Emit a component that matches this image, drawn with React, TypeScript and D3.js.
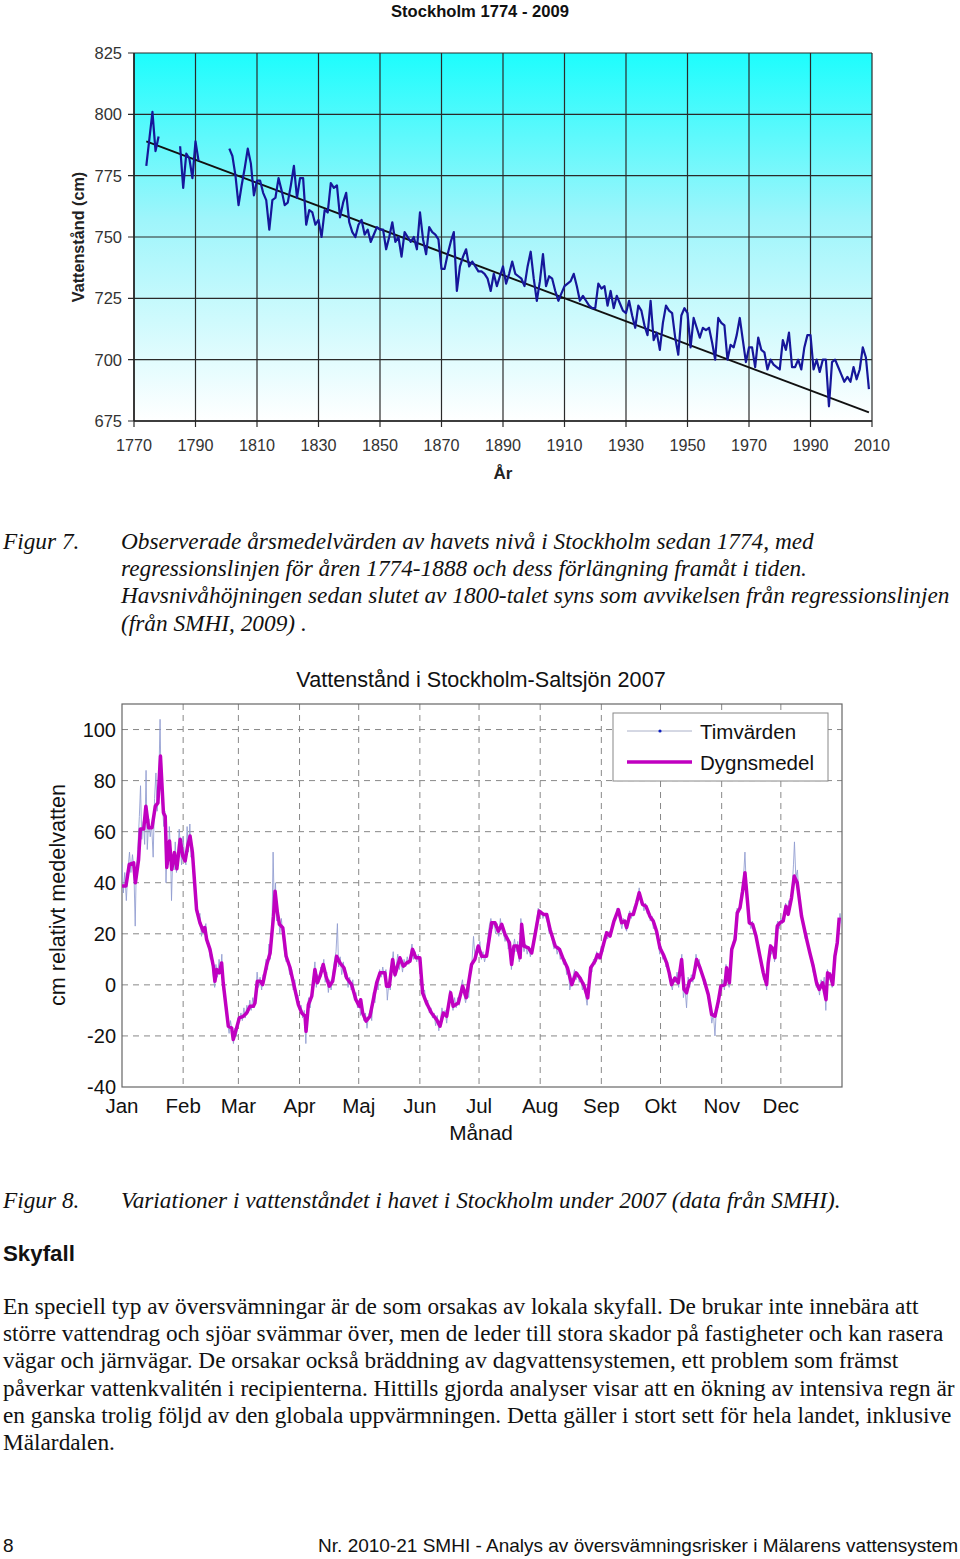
import React from "react";
import * as d3 from "d3";

// ---------- Chart 1: annual mean sea level Stockholm ----------
const years: number[] = [
  1774,1775,1776,1777,1778,
  1784,1785,1786,1787,1788,1789,1790,1791,1792,
  1800,1801,1802,1803,1804,1805,1806,1807,1808,1809,1810,1811,1812,1813,1814,1815,1816,1817,1818,1819,
  1820,1821,1822,1823,1824,1825,1826,1827,1828,1829,1830,1831,1832,1833,1834,1835,1836,1837,1838,1839,
  1840,1841,1842,1843,1844,1845,1846,1847,1848,1849,1850,1851,1852,1853,1854,1855,1856,1857,1858,1859,
  1860,1861,1862,1863,1864,1865,1866,1867,1868,1869,1870,1871,1872,1873,1874,1875,1876,1877,1878,1879,
  1880,1881,1882,1883,1884,1885,1886,1887,1888,1889,1890,1891,1892,1893,1894,1895,1896,1897,1898,1899,
  1900,1901,1902,1903,1904,1905,1906,1907,1908,1909,1910,1911,1912,1913,1914,1915,1916,1917,1918,1919,
  1920,1921,1922,1923,1924,1925,1926,1927,1928,1929,1930,1931,1932,1933,1934,1935,1936,1937,1938,1939,
  1940,1941,1942,1943,1944,1945,1946,1947,1948,1949,1950,1951,1952,1953,1954,1955,1956,1957,1958,1959,
  1960,1961,1962,1963,1964,1965,1966,1967,1968,1969,1970,1971,1972,1973,1974,1975,1976,1977,1978,1979,
  1980,1981,1982,1983,1984,1985,1986,1987,1988,1989,1990,1991,1992,1993,1994,1995,1996,1997,1998,1999,
  2000,2001,2002,2003,2004,2005,2006,2007,2008,2009,
];
const levels: (number | null)[] = [
  779,790,801,785,791,
  null,787,770,784,782,774,789,781,null,
  null,786,783,775,763,771,778,786,780,767,773,773,768,765,753,765,766,774,769,763,
  764,771,779,766,774,774,755,761,760,755,757,750,761,760,772,770,771,758,764,768,
  756,752,750,755,757,751,753,748,751,754,753,753,745,750,756,748,750,742,752,750,
  748,750,745,760,749,743,754,752,751,749,737,737,743,748,752,728,738,742,745,738,
  740,738,736,736,735,733,728,735,730,734,738,731,735,740,735,734,733,730,738,744,
  733,724,732,743,730,734,733,728,724,727,730,731,732,735,730,724,726,724,722,721,
  721,731,729,730,722,728,721,726,723,720,719,724,718,713,722,720,714,710,724,708,
  711,704,715,722,720,719,709,702,718,721,719,705,717,713,709,713,712,713,707,700,
  717,715,714,700,706,705,710,717,708,699,705,705,697,709,704,703,696,700,698,697,
  696,708,704,711,697,697,700,696,705,710,710,696,700,695,700,700,681,699,700,697,
  694,691,693,691,697,692,696,705,701,688,
];
const regYears: number[] = [1774, 2009];
const regLevels: number[] = [789, 678.5];
const yearTicks: number[] = [1770,1790,1810,1830,1850,1870,1890,1910,1930,1950,1970,1990,2010];
const levelTicks: number[] = [675,700,725,750,775,800,825];

// ---------- Chart 2: Stockholm-Saltsjön 2007 ----------
const monthStarts: number[] = [0,31,59,90,120,151,181,212,243,273,304,334];
const monthLabels: string[] = ["Jan","Feb","Mar","Apr","Maj","Jun","Jul","Aug","Sep","Okt","Nov","Dec"];
const cmTicks: number[] = [-40,-20,0,20,40,60,80,100];

const dailyDay: number[] = [
  0,2,3.7,5.9,6.8,8.4,9.3,11,12.1,13.5,15.2,16.9,18.2,19.5,21,21.9,22.7,24.1,25.2,26.6,27.8,29.5,30.8,32,33.3,34.5,35.7,
  37.8,39.5,41.2,42,42.9,44.6,46.3,47.1,48,49.3,50.5,51.3,52.7,53.9,55.6,56.4,58.1,59.5,61.5,63.2,64.9,66.6,67.4,68.6,70,71.3,
  73.4,75.1,76.8,77.6,78.8,79.8,81.5,83.2,85.2,86.9,89.4,91.1,92.8,93.3,94.5,96.2,97.8,99,100.4,102,103.4,105.1,106.8,108.8,
  110.5,112.5,113.9,116.4,118.6,120.3,121,122,123.7,125.7,127.4,129.1,130.8,133.3,134.1,135.5,137.2,138.4,140.9,142.6,144.3,
  146,147.3,149,151,152.4,154.4,156.9,159.5,161.2,162.9,164.6,166.6,167.9,170.5,172.7,174.5,177.2,178.9,180.6,182.3,184.8,
  187.4,189.1,190.8,192.5,194.2,196.4,197.5,198.7,200.4,201.8,202.6,203.8,206,207.7,209.4,211.5,213.7,215.3,217,219.6,221.8,
  223.8,225.8,228,230.2,232.2,234.3,236.1,237.6,239.8,241,242.3,244.3,245.7,247.4,249.4,251.6,253.3,254.9,255.8,257.5,259.2,
  260.9,262.2,263.9,265.6,267.6,269.3,271,272.7,274.4,276.1,277.4,278.6,280.3,282,283.7,284.9,286.2,287.6,289.6,291.3,293,
  295,297.2,298.9,300.6,302.3,303.6,305.7,306.5,307.9,309.1,310.8,311.9,313.3,314.6,315.8,317,318,319.7,321.4,323.4,325.1,
  326.8,327.6,328.8,330.2,331,332.2,333.5,335.2,336.6,337.7,339.4,340.8,342.3,344.5,346.7,348.7,350.4,352.1,353.5,355.2,
  356.9,357.7,358.9,360.3,361.4,362.6,363.6,
];
const dailyCm: number[] = [
  38.7,38.7,47.2,47.8,40,49,61,61,70,61.5,61.5,70,71.3,89.6,67.4,66,46,56.3,45.2,51.8,45.5,57,50.5,48.5,54.4,58.3,51.8,
  29.5,24.3,21,22.4,17.8,13.9,7.3,1.4,6,4.7,8.6,0.8,-8.4,-16.2,-16.9,-21.4,-16.9,-12.9,-12.3,-11,-8.4,-8.4,-7.1,1.4,1.4,0.1,
  8,12.5,26.9,36.7,28.2,23.7,22.4,11.2,6.7,0.8,-7.7,-11,-12.3,-18.2,-7.7,-4.4,6,0.8,3.4,8,3.4,-0.5,1.4,11.2,
  8.6,6.7,2.7,0.1,-5.8,-8.4,-5.8,-11,-14.2,-12.3,-5.8,0.8,4.7,4.7,-0.5,-0.5,9.9,4,10.6,7.3,8.6,
  9.3,13.9,10.6,10.6,-3.1,-7.1,-11,-13.6,-16.2,-11,-12.3,-3.1,-8.4,-7.1,-0.5,-5,8,10,15.2,11.2,11.2,
  24.3,24.3,21,23.7,19.7,16.5,8,15.2,15.2,10.6,23.7,15.2,14.5,12.5,19.7,28.9,27.6,27.6,21.7,15.2,13.9,
  9.9,6.7,0.1,4.7,2.7,-0.5,-5.1,6.7,9.3,11.9,10.6,16.5,20.4,19.1,25,29.5,24.3,25,22.4,27.6,27.6,
  32.2,36.1,31.5,30.8,26.9,25,21,14.5,11.9,8.6,4.7,0.1,2.7,0.8,9.9,-1.8,-3.1,1.4,2.7,9.9,6.7,
  2.1,-3.8,-11.6,-12.3,-6.4,-0.5,0.1,6.7,0.8,13.9,17.8,28.2,30.2,36.7,43.9,33.5,24.3,23.7,19.1,11.2,4.7,
  0.1,8.6,15.2,13.9,10.6,23,24.3,25,30.8,27.6,34.1,42.6,40,26.9,19.1,12.5,7.3,0.8,-1.8,0.8,
  -5.8,4.7,4,0.1,11.2,16.5,26.3,
];

const hourlyPairs: [number, number][] = [
  [0,48],[0.7,36],[1.4,44],[2.2,33],[3,45],[3.8,52],[4.5,44],[5.3,51],[6,46],[6.7,23],[7.2,44],[8,53],[8.8,66],[9.4,78],[10,57],[10.8,64],[11.5,55],[12.2,84],[12.8,53],[13.6,65],[14.3,58],[15,63],[15.8,50],[16.5,73],[17.2,83],[17.8,68],[18.5,74],[19.3,104],[19.8,78],[20.5,70],[21.2,62],[21.7,68],[22.3,40],[22.8,52],[23.5,47],[24,62],[24.6,52],[25.1,33],[25.7,50],[26.4,45],[27,56],[27.6,44],[28.3,52],[29,61],[29.6,54],[30.2,47],[31,58],[31.7,50],[32.4,47],[33,62],[33.7,52],[34.4,63],[35,50],[35.8,54],[36.5,44],[37.2,38],[38,32],[38.8,25],[39.5,28],[40.3,19],[41,23],[41.7,20],[42.5,24],[43.2,16],[44,15],[44.8,10],[45.5,12],[46.2,4],[47,-1],[47.6,8],[48.4,3],[49.2,10],[50,5],[50.6,12],[51.3,-2],[52,-4],[52.8,-10],[53.5,-15],[54.3,-19],[55,-14],[55.8,-18],[56.5,-23],[57.2,-17],[58,-20],[58.8,-13],[59.5,-14],[60.3,-11],[61,-14],[61.8,-9],[62.5,-13],[63.3,-8],[64,-11],[64.8,-6],[65.5,-10],[66.3,-5],[67,-9],[67.8,-3],[68.5,5],[69.2,-1],[70,3],[70.8,-2],[71.5,4],[72.3,2],[73,10],[73.8,6],[74.5,16],[75.2,10],[76,20],[76.6,52],[77.2,30],[77.8,40],[78.4,25],[79.2,29],[80,20],[80.8,26],[81.6,19],[82.4,13],[83.2,9],[84,10],[85,4],[86,6],[86.8,-2],[87.6,2],[88.4,-5],[89.2,-4],[90,-10],[90.8,-8],[91.6,-13],[92.4,-10],[93.2,-23],[93.8,-11],[94.6,-5],[95.4,-9],[96.2,-2],[97,3],[97.8,9],[98.5,-1],[99.2,4],[100,1],[100.8,7],[101.6,5],[102.3,10],[103,1],[103.8,5],[104.6,-3],[105.3,2],[106,-2],[106.8,4],[107.6,9],[108.5,13],[109.2,24],[109.8,7],[110.6,11],[111.4,4],[112.2,9],[113,3],[113.8,5],[114.6,-1],[115.4,3],[116.2,-2],[117,2],[117.8,-6],[118.6,-3],[119.4,-9],[120.2,-6],[121,-12],[121.8,-8],[122.6,-14],[123.4,-11],[124.2,-17],[125,-12],[125.8,-10],[126.6,-14],[127.4,-3],[128.2,-7],[129,2],[129.8,-2],[130.6,6],[131.4,3],[132.2,7],[133,3],[133.8,6],[134.5,-6],[135.3,1],[136,-2],[136.8,8],[137.5,13],[138.3,3],[139,7],[139.8,12],[140.6,6],[141.4,10],[142.2,5],[143,10],[143.8,7],[144.6,11],[145.4,8],[146.2,12],[147,16],[147.8,10],[148.6,13],[149.4,9],[150.2,12],[151,8],[151.8,0],[152.6,-4],[153.4,-2],[154.2,-8],[155,-6],[155.8,-11],[156.6,-9],[157.4,-13],[158.2,-11],[159,-16],[159.8,-12],[160.6,-18],[161.4,-14],[162.2,-9],[163,-13],[163.8,-10],[164.6,-15],[165.4,-8],[166.2,-2],[167,-6],[167.8,-10],[168.6,-5],[169.4,-9],[170.2,-5],[171,-8],[171.8,-1],[172.6,2],[173.4,-4],[174.2,-7],[175,-3],[175.8,-5],[176.6,6],[177.4,9],[178.2,19],[179,10],[179.8,15],[180.6,13],[181.4,17],[182.2,10],[183,13],[183.8,9],[184.6,12],[185.4,18],[186.2,23],[187,26],[187.8,22],[188.6,25],[189.4,20],[190.2,24],[191,19],[191.8,26],[192.6,21],[193.4,20],[194.2,17],[195,20],[195.8,14],[196.6,17],[197.4,6],[198.2,14],[199,18],[199.8,13],[200.6,17],[201.4,9],[202.2,26],[203,17],[203.8,13],[204.6,16],[205.4,12],[206.2,15],[207,11],[207.8,14],[208.6,18],[209.4,21],[210.2,25],[211,30],[211.8,27],[212.6,29],[213.4,26],[214.2,28],[215,26],[215.8,24],[216.6,20],[217.4,22],[218.2,17],[219,14],[219.8,16],[220.6,12],[221.4,15],[222.2,10],[223,12],[223.8,8],[224.6,10],[225.4,4],[226.2,7],[227,-2],[227.8,1],[228.6,3],[229.4,6],[230.2,2],[231,5],[231.8,1],[232.6,3],[233.4,-2],[234.2,1],[235,-4],[235.8,-8],[236.6,2],[237.4,7],[238.2,5],[239,10],[239.8,8],[240.6,13],[241.4,10],[242.2,12],[243,15],[243.8,13],[244.6,18],[245.4,21],[246.2,18],[247,21],[247.8,19],[248.6,23],[249.4,26],[250.2,25],[251,30],[251.8,27],[252.6,25],[253.4,22],[254.2,26],[255,23],[255.8,21],[256.6,27],[257.4,29],[258.2,26],[259,29],[259.8,31],[260.6,30],[261.4,34],[262.2,38],[263,32],[263.8,33],[264.6,29],[265.4,32],[266.2,28],[267,29],[267.8,25],[268.6,27],[269.4,22],[270.2,24],[271,19],[271.8,17],[272.6,12],[273.4,15],[274.2,10],[275,12],[275.8,7],[276.6,9],[277.4,3],[278.2,1],[279,-2],[279.8,3],[280.6,1],[281.4,5],[282.2,-1],[283,6],[283.8,12],[284.6,-5],[285.4,-1],[286.2,-9],[287,3],[287.8,-1],[288.6,4],[289.4,1],[290.2,6],[291,12],[291.8,8],[292.6,10],[293.4,5],[294.2,4],[295,0],[295.8,2],[296.6,-3],[297.4,-6],[298.2,-9],[299,-15],[299.8,-11],[300.6,-20],[301.4,-8],[302.2,-9],[303,-3],[303.8,-1],[304.6,2],[305.4,-2],[306.2,8],[307,2],[307.8,-1],[308.6,10],[309.4,15],[310.2,18],[311,22],[311.8,30],[312.6,28],[313.4,33],[314.2,37],[315,41],[315.8,52],[316.4,40],[317.2,30],[318,25],[318.8,22],[319.6,25],[320.4,20],[321.2,21],[322,16],[322.8,13],[323.6,9],[324.4,7],[325.2,2],[326,4],[326.8,-2],[327.6,10],[328.4,16],[329.2,12],[330,15],[330.8,9],[331.6,22],[332.4,25],[333.2,22],[334,26],[334.8,24],[335.6,27],[336.4,32],[337.2,28],[338,33],[338.8,30],[339.6,36],[340.4,47],[340.9,56],[341.6,42],[342.4,45],[343.2,35],[344,30],[344.8,25],[345.6,22],[346.4,18],[347.2,20],[348,14],[348.8,12],[349.6,9],[350.4,5],[351.2,3],[352,-1],[352.8,1],[353.6,-4],[354.4,2],[355.2,-1],[356,3],[356.8,-10],[357.6,6],[358.4,2],[359.2,5],[360,-1],[360.8,8],[361.6,13],[362.4,17],[363.2,22],[364,28],[364.6,24],
];

// ---------- Text ----------
const fig7Lines: string[] = [
  "Observerade årsmedelvärden av havets nivå i Stockholm sedan 1774, med",
  "regressionslinjen för åren 1774-1888 och dess förlängning framåt i tiden.",
  "Havsnivåhöjningen sedan slutet av 1800-talet syns som avvikelsen från regressionslinjen",
  "(från SMHI, 2009) .",
];
const bodyLines: string[] = [
  "En speciell typ av översvämningar är de som orsakas av lokala skyfall. De brukar inte innebära att",
  "större vattendrag och sjöar svämmar över, men de leder till stora skador på fastigheter och kan rasera",
  "vägar och järnvägar. De orsakar också bräddning av dagvattensystemen, ett problem som främst",
  "påverkar vattenkvalitén i recipienterna. Hittills gjorda analyser visar att en ökning av intensiva regn är",
  "en ganska trolig följd av den globala uppvärmningen. Detta gäller i stort sett för hela landet, inklusive",
  "Mälardalen.",
];

const SANS = "'Liberation Sans', Arial, sans-serif";
const SERIF = "'Liberation Serif', 'Times New Roman', serif";
const SERIF_SIZE = 23.3;

export default function App() {
  // chart 1 scales
  const xT = d3.scaleLinear().domain([1770, 2010]).range([134, 872]);
  const yT = d3.scaleLinear().domain([675, 825]).range([421, 53]);
  const annual = years.map((y, i) => ({ y, v: levels[i] }));
  const lineT = d3
    .line<{ y: number; v: number | null }>()
    .defined((d) => d.v !== null)
    .x((d) => xT(d.y))
    .y((d) => yT(d.v as number));
  const regLine = d3.line<number>().x((d, i) => xT(regYears[i])).y((d) => yT(d))(regLevels) || "";

  // chart 2 scales
  const xB = d3.scaleLinear().domain([0, 365]).range([122, 842]);
  const yB = d3.scaleLinear().domain([-40, 110]).range([1087, 704]);
  const dailyPath =
    d3.line<number>().x((d, i) => xB(dailyDay[i])).y((d) => yB(d))(dailyCm) || "";
  const hourlyPath =
    d3.line<[number, number]>().x((d) => xB(d[0])).y((d) => yB(d[1]))(hourlyPairs) || "";

  return (
    <svg
      width={960}
      height={1559}
      style={{ position: "absolute", left: 0, top: 0, background: "#fff" }}
    >
      <defs>
        <linearGradient id="bgGrad" x1="0" y1="0" x2="0" y2="1">
          <stop offset="0%" stopColor="#1dfdfd" />
          <stop offset="45%" stopColor="#9ef5fb" />
          <stop offset="100%" stopColor="#ffffff" />
        </linearGradient>
        <clipPath id="clipB">
          <rect x={122} y={704} width={720} height={383} />
        </clipPath>
      </defs>

      {/* ===== Chart 1 ===== */}
      <text x={480} y={17} textAnchor="middle" fontFamily={SANS} fontWeight="bold" fontSize={16.6} fill="#111">
        Stockholm 1774 - 2009
      </text>
      <rect x={xT(1770)} y={yT(825)} width={xT(2010) - xT(1770)} height={yT(675) - yT(825)} fill="url(#bgGrad)" />
      {yearTicks.map((t) => (
        <line key={"gx" + t} x1={xT(t)} x2={xT(t)} y1={yT(825)} y2={yT(675) + 6} stroke="#2a2a2a" strokeWidth={1.2} />
      ))}
      {levelTicks.map((t) => (
        <line key={"gy" + t} x1={xT(1770) - 6} x2={xT(2010)} y1={yT(t)} y2={yT(t)} stroke="#2a2a2a" strokeWidth={1.2} />
      ))}
      <line x1={xT(1770)} x2={xT(1770)} y1={yT(825)} y2={yT(675)} stroke="#222" strokeWidth={1.5} />
      <line x1={xT(1770)} x2={xT(2010)} y1={yT(675)} y2={yT(675)} stroke="#222" strokeWidth={1.5} />
      {levelTicks.map((t) => (
        <text key={"ly" + t} x={122} y={yT(t) + 6} textAnchor="end" fontFamily={SANS} fontSize={16.5} fill="#333">
          {t}
        </text>
      ))}
      {yearTicks.map((t) => (
        <text key={"lx" + t} x={xT(t)} y={451} textAnchor="middle" fontFamily={SANS} fontSize={16.2} fill="#333">
          {t}
        </text>
      ))}
      <path d={regLine} fill="none" stroke="#111" strokeWidth={2} />
      <path d={lineT(annual as any) || ""} fill="none" stroke="#16169a" strokeWidth={2.2} strokeLinejoin="round" />
      <text
        transform="translate(84,237) rotate(-90)"
        textAnchor="middle"
        fontFamily={SANS}
        fontWeight="bold"
        fontSize={16.2}
        fill="#222"
      >
        Vattenstånd (cm)
      </text>
      <text x={503} y={479} textAnchor="middle" fontFamily={SANS} fontWeight="bold" fontSize={17} fill="#222">
        År
      </text>

      {/* ===== Figure 7 caption ===== */}
      <text x={3} y={549} fontFamily={SERIF} fontStyle="italic" fontSize={SERIF_SIZE} fill="#111">
        Figur 7.
      </text>
      {fig7Lines.map((l, i) => (
        <text key={"f7" + i} x={121} y={549 + i * 27.2} fontFamily={SERIF} fontStyle="italic" fontSize={SERIF_SIZE} fill="#111">
          {l}
        </text>
      ))}

      {/* ===== Chart 2 ===== */}
      <text x={481} y={687} textAnchor="middle" fontFamily={SANS} fontSize={21.6} fill="#111">
        Vattenstånd i Stockholm-Saltsjön 2007
      </text>
      <rect x={122} y={704} width={720} height={383} fill="#fff" />
      {monthStarts.slice(1).map((d) => (
        <line key={"vm" + d} x1={xB(d)} x2={xB(d)} y1={704} y2={1087} stroke="#888" strokeWidth={1} strokeDasharray="6,5" />
      ))}
      {cmTicks.slice(1).map((t) => (
        <line key={"hc" + t} x1={122} x2={842} y1={yB(t)} y2={yB(t)} stroke="#888" strokeWidth={1} strokeDasharray="6,5" />
      ))}
      <rect x={122} y={704} width={720} height={383} fill="none" stroke="#666" strokeWidth={1.2} />
      {cmTicks.map((t) => (
        <text key={"cy" + t} x={116} y={yB(t) + 7} textAnchor="end" fontFamily={SANS} fontSize={20} fill="#111">
          {t}
        </text>
      ))}
      {monthStarts.map((d, i) => (
        <text key={"mx" + d} x={xB(d)} y={1113} textAnchor="middle" fontFamily={SANS} fontSize={20.5} fill="#111">
          {monthLabels[i]}
        </text>
      ))}
      <text x={481} y={1140} textAnchor="middle" fontFamily={SANS} fontSize={20.8} fill="#111">
        Månad
      </text>
      <text
        transform="translate(65,895) rotate(-90)"
        textAnchor="middle"
        fontFamily={SANS}
        fontSize={21.6}
        fill="#111"
      >
        cm relativt medelvatten
      </text>
      <g clipPath="url(#clipB)">
        <path d={hourlyPath} fill="none" stroke="#8f9bd0" strokeWidth={1} strokeOpacity={0.85} />
        <path d={dailyPath} fill="none" stroke="#c000c0" strokeWidth={3.5} strokeLinejoin="round" />
      </g>
      {/* legend */}
      <rect x={613} y={713} width={215} height={68} fill="#fff" stroke="#888" strokeWidth={1} />
      <line x1={627} x2={692} y1={731} y2={731} stroke="#aab0c8" strokeWidth={1} />
      <circle cx={660} cy={731} r={1.6} fill="#1020c0" />
      <text x={700} y={739} fontFamily={SANS} fontSize={20.5} fill="#111">
        Timvärden
      </text>
      <line x1={627} x2={692} y1={762} y2={762} stroke="#c000c0" strokeWidth={3.5} />
      <text x={700} y={770} fontFamily={SANS} fontSize={20.5} fill="#111">
        Dygnsmedel
      </text>

      {/* ===== Figure 8 caption ===== */}
      <text x={3} y={1208} fontFamily={SERIF} fontStyle="italic" fontSize={SERIF_SIZE} fill="#111">
        Figur 8.
      </text>
      <text x={121} y={1208} fontFamily={SERIF} fontStyle="italic" fontSize={SERIF_SIZE} fill="#111">
        Variationer i vattenståndet i havet i Stockholm under 2007 (data från SMHI).
      </text>

      {/* ===== Skyfall ===== */}
      <text x={3} y={1261} fontFamily={SANS} fontWeight="bold" fontSize={22.3} fill="#111">
        Skyfall
      </text>
      {bodyLines.map((l, i) => (
        <text key={"b" + i} x={3} y={1314 + i * 27.2} fontFamily={SERIF} fontSize={SERIF_SIZE} fill="#111">
          {l}
        </text>
      ))}

      {/* footer */}
      <text x={3} y={1552} fontFamily={SANS} fontSize={19} fill="#111">
        8
      </text>
      <text x={958} y={1552} textAnchor="end" fontFamily={SANS} fontSize={19} fill="#111">
        Nr. 2010-21 SMHI - Analys av översvämningsrisker i Mälarens vattensystem
      </text>
    </svg>
  );
}
